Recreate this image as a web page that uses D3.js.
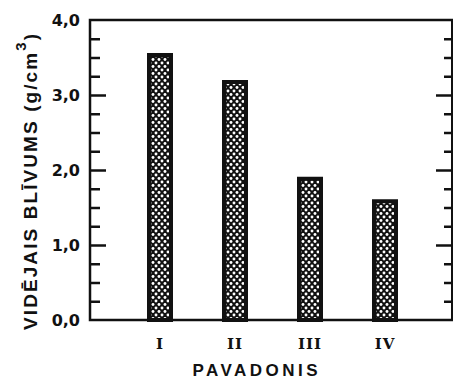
<!doctype html>
<html lang="lv">
<head>
    <meta charset="utf-8">
    <title>Pavadoņu vidējais blīvums</title>
    <script src="https://cdnjs.cloudflare.com/ajax/libs/d3/7.8.5/d3.min.js"></script>
    <style>
        body { margin: 0; background: #fff; }
        #chart text { fill: #111; }
        .tick-label { font: bold 16px "DejaVu Sans", sans-serif; }
        .cat-label { font: 600 15px "DejaVu Serif", serif; }
        .axis-title { font: bold 19px "Liberation Sans", Arial, sans-serif; }
    </style>
</head>
<body>
    <div id="chart"></div>
    <script>
        // data
        var categories = ["I", "II", "III", "IV"];
        var density = [3.56, 3.2, 1.91, 1.61];
        var majorTicks = [0, 1, 2, 3, 4];
        var tickLabels = ["0,0", "1,0", "2,0", "3,0", "4,0"];
        var minorTicks = [0.25, 0.5, 0.75, 1.25, 1.5, 1.75, 2.25, 2.5, 2.75, 3.25, 3.5, 3.75];

        var width = 453, height = 379;
        // note: "top" is reserved on window, so use plot* names
        var plotLeft = 90, plotRight = 452, plotTop = 20, plotBottom = 320;
        var barWidth = 22;

        var svg = d3.select("#chart")
            .append("svg")
            .attr("width", width)
            .attr("height", height);

        // cross-hatch fill: black ground with white dots
        var pat = svg.append("defs").append("pattern")
            .attr("id", "hatch")
            .attr("patternUnits", "userSpaceOnUse")
            .attr("width", 6)
            .attr("height", 7);
        pat.append("rect").attr("width", 6).attr("height", 7).attr("fill", "#111");
        [[0, 0], [6, 0], [3, 3.5], [0, 7], [6, 7]].forEach(function (p) {
            pat.append("circle").attr("cx", p[0]).attr("cy", p[1]).attr("r", 1.45).attr("fill", "#fff");
        });

        var x = d3.scalePoint()
            .domain(categories)
            .range([160, 385]);

        var y = d3.scaleLinear()
            .domain([0, 4])
            .range([plotBottom, plotTop]);

        // frame
        svg.append("path")
            .attr("d", "M" + (width + 2) + "," + y(4) + "H" + plotLeft + "V" + y(0) + "H" + (width + 2))
            .attr("fill", "none")
            .attr("stroke", "#111")
            .attr("stroke-width", 2.5);
        svg.append("line")
            .attr("x1", plotRight).attr("x2", plotRight)
            .attr("y1", y(4)).attr("y2", y(0))
            .attr("stroke", "#111")
            .attr("stroke-width", 2);

        function ticks(axis, xpos, values, size) {
            var g = svg.append("g")
                .attr("transform", "translate(" + xpos + ",0)")
                .call(axis(y).tickValues(values).tickSize(size).tickFormat(""));
            g.select(".domain").remove();
            g.selectAll("line").attr("stroke", "#111").attr("stroke-width", 2.5);
        }

        // ticks point inward on both sides
        ticks(d3.axisRight, plotLeft, [1, 2, 3], 16);
        ticks(d3.axisRight, plotLeft, minorTicks, 10);
        ticks(d3.axisLeft, plotRight, [1, 2, 3], 16);
        ticks(d3.axisLeft, plotRight, minorTicks, 8);

        var labels = svg.append("g")
            .attr("transform", "translate(" + plotLeft + ",0)")
            .call(d3.axisLeft(y).tickValues(majorTicks).tickSize(0).tickPadding(10)
                .tickFormat(function (d, i) { return tickLabels[i]; }));
        labels.select(".domain").remove();
        labels.selectAll("text").attr("class", "tick-label").attr("fill", "#111");

        // bars
        svg.selectAll(".bar")
            .data(density)
            .enter()
            .append("rect")
            .attr("class", "bar")
            .attr("x", function (d, i) { return x(categories[i]) - barWidth / 2; })
            .attr("y", function (d) { return y(d) + 2; })
            .attr("width", barWidth)
            .attr("height", function (d) { return y(0) - y(d) - 2; })
            .attr("fill", "url(#hatch)")
            .attr("stroke", "#111")
            .attr("stroke-width", 4);

        // category labels
        svg.selectAll(".cat")
            .data(categories)
            .enter()
            .append("text")
            .attr("class", "cat-label")
            .attr("x", function (d) { return x(d); })
            .attr("y", 349)
            .attr("text-anchor", "middle")
            .attr("letter-spacing", 1)
            .text(function (d) { return d; });

        svg.append("text")
            .attr("class", "axis-title")
            .attr("x", 255)
            .attr("y", 376)
            .attr("text-anchor", "middle")
            .attr("textLength", 125)
            .attr("lengthAdjust", "spacing")
            .style("font-size", "17px")
            .text("PAVADONIS");

        var yt = svg.append("text")
            .attr("class", "axis-title")
            .attr("transform", "translate(37,182) rotate(-90)")
            .attr("text-anchor", "middle")
            .attr("textLength", 296)
            .attr("lengthAdjust", "spacing");
        yt.append("tspan").text("VIDĒJAIS  BLĪVUMS  (g/cm");
        yt.append("tspan").attr("dy", -11).style("font-size", "15px").text("3");
        yt.append("tspan").attr("dy", 11).text(")");
    </script>
</body>
</html>
